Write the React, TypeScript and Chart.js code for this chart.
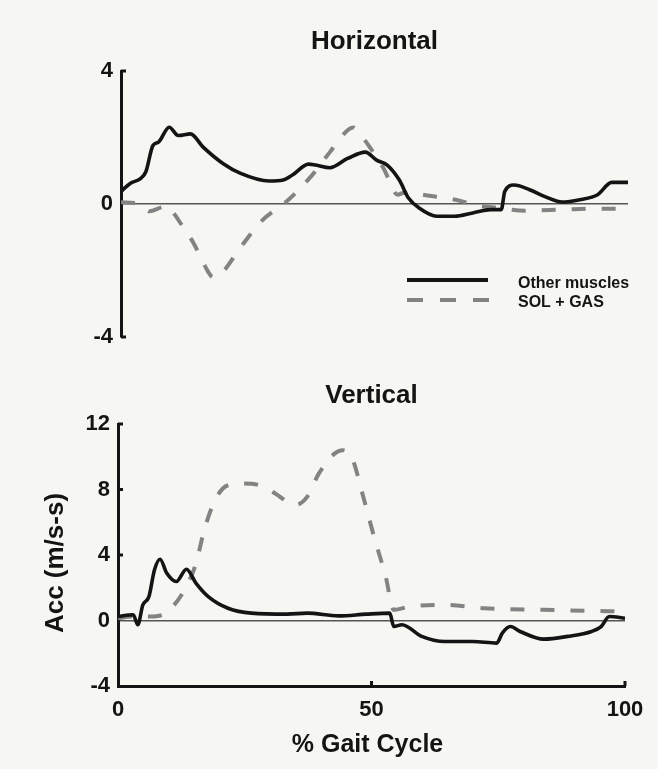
import React, { useEffect, useRef } from "react";
import { Chart, registerables } from "chart.js";

Chart.register(...registerables);

const FONT = "'Liberation Sans', Arial, Helvetica, sans-serif";

// ---- Data ----
const seriesNames = ["Other muscles", "SOL + GAS"];

const horizOtherX = [0, 1.8, 3.9, 4.9, 6.3, 7.4, 9.5, 11.3, 13.7, 16.2, 20.1, 23.6, 29.2, 32.0, 33.8, 37.0, 38.4, 41.2, 44.7, 48.2, 50.4, 52.5, 54.9, 56.7, 58.8, 62.3, 65.8, 69.4, 72.9, 75.0, 75.7, 77.5, 80.6, 83.5, 87.0, 90.5, 94.0, 96.8, 100];
const horizOtherY = [0.38, 0.62, 0.77, 0.97, 1.76, 1.86, 2.31, 2.06, 2.11, 1.71, 1.22, 0.92, 0.69, 0.72, 0.87, 1.2, 1.17, 1.09, 1.37, 1.56, 1.32, 1.17, 0.72, 0.18, -0.12, -0.37, -0.37, -0.27, -0.17, -0.17, 0.38, 0.57, 0.43, 0.23, 0.06, 0.13, 0.28, 0.65, 0.65];

const horizSolGasX = [0, 3.9, 5.6, 8, 9.2, 10.6, 12.3, 14.4, 16.5, 18.2, 19.7, 23.6, 27.8, 32.7, 37.7, 41.2, 44.7, 45.8, 46.8, 49.3, 51.8, 54.6, 55.6, 61.6, 67.3, 69.4, 74.4, 80, 87, 94, 100];
const horizSolGasY = [0.05, 0, -0.22, -0.1, -0.07, -0.32, -0.71, -1.2, -1.85, -2.2, -2.1, -1.3, -0.5, 0.08, 0.87, 1.56, 2.22, 2.3, 2.16, 1.66, 1.07, 0.28, 0.33, 0.23, 0.08, -0.02, -0.12, -0.2, -0.17, -0.14, -0.14];

const vertOtherX = [0, 3, 3.9, 4.9, 6.1, 7.2, 8.3, 9.6, 11.5, 13.5, 15.4, 17.8, 21.7, 26.3, 33.4, 37.3, 43.5, 49, 53.6, 54.4, 56, 59.9, 64.5, 70, 74.7, 75.8, 77.4, 79.3, 84, 88.7, 93.4, 95.3, 96.9, 100];
const vertOtherY = [0.24, 0.35, -0.26, 0.95, 1.46, 3.1, 3.74, 2.9, 2.38, 3.13, 2.27, 1.46, 0.75, 0.45, 0.39, 0.45, 0.28, 0.39, 0.45, -0.37, -0.26, -0.97, -1.28, -1.28, -1.38, -0.77, -0.37, -0.67, -1.14, -0.97, -0.67, -0.37, 0.24, 0.14];

const vertSolGasX = [0, 3, 6.1, 8.8, 10.8, 13.1, 15.4, 17, 19.3, 21.7, 24.8, 27.9, 31, 34.9, 37.3, 39.6, 42.7, 44.3, 46.2, 48.2, 50.5, 52.8, 54.4, 57.5, 64.5, 72.3, 84, 99.6];
const vertSolGasY = [0.14, 0.24, 0.24, 0.35, 0.85, 1.87, 3.5, 5.52, 7.45, 8.26, 8.37, 8.26, 7.76, 7.05, 7.55, 8.97, 10.19, 10.4, 9.89, 7.76, 5.12, 2.68, 0.65, 0.85, 0.95, 0.75, 0.65, 0.55];

const horizTicks = [-4, 0, 4];
const vertTicks = [-4, 0, 4, 8, 12];
const xTicks = [0, 50, 100];

const titles = { top: "Horizontal", bottom: "Vertical" };
const xAxisTitle = "% Gait Cycle";
const yAxisTitle = "Acc (m/s-s)";

// ---- Styles ----
const INK = "#141414";
const DASH_COLOR = "#838383";
const DASH = [14, 16];

const zip = (xs: number[], ys: number[]) => xs.map((x, i) => ({ x, y: ys[i] }));

const solidDs = (xs: number[], ys: number[]) => ({
  label: seriesNames[0],
  data: zip(xs, ys),
  borderColor: INK,
  borderWidth: 3.6,
  pointRadius: 0,
  cubicInterpolationMode: "monotone" as const,
  fill: false,
});
const dashDs = (xs: number[], ys: number[]) => ({
  label: seriesNames[1],
  data: zip(xs, ys),
  borderColor: DASH_COLOR,
  borderWidth: 4,
  borderDash: DASH,
  pointRadius: 0,
  cubicInterpolationMode: "monotone" as const,
  fill: false,
});

const tickFont = { family: FONT, size: 22, weight: "bold" as const };

const zeroGrid = {
  drawTicks: false,
  lineWidth: 1.4,
  color: (c: any) => (c.tick && c.tick.value === 0 ? "#555" : "rgba(0,0,0,0)"),
};

// nubs (small inner tick marks) on axes
function drawNubs(chart: any, yVals: number[], xVals: number[]) {
  const { ctx, chartArea, scales } = chart;
  ctx.save();
  ctx.strokeStyle = INK;
  ctx.lineWidth = 3;
  yVals.forEach((v) => {
    const p = scales.y.getPixelForValue(v);
    ctx.beginPath();
    ctx.moveTo(chartArea.left, p);
    ctx.lineTo(chartArea.left + 5, p);
    ctx.stroke();
  });
  xVals.forEach((v) => {
    const p = scales.x.getPixelForValue(v);
    ctx.beginPath();
    ctx.moveTo(p, chartArea.bottom);
    ctx.lineTo(p, chartArea.bottom - 5);
    ctx.stroke();
  });
  ctx.restore();
}

const topTextPlugin = {
  id: "topText",
  afterDraw(chart: any) {
    const { ctx, chartArea } = chart;
    drawNubs(chart, [4, -4], []);
    ctx.save();
    ctx.fillStyle = INK;
    ctx.font = `bold 26px ${FONT}`;
    ctx.textAlign = "center";
    ctx.textBaseline = "alphabetic";
    ctx.fillText(titles.top, (chartArea.left + chartArea.right) / 2, 49);
    // legend
    ctx.lineWidth = 4;
    ctx.strokeStyle = INK;
    ctx.beginPath();
    ctx.moveTo(407, 280);
    ctx.lineTo(488, 280);
    ctx.stroke();
    ctx.strokeStyle = DASH_COLOR;
    ctx.setLineDash([16, 17]);
    ctx.beginPath();
    ctx.moveTo(407, 300);
    ctx.lineTo(489, 300);
    ctx.stroke();
    ctx.setLineDash([]);
    ctx.font = `bold 16px ${FONT}`;
    ctx.textAlign = "left";
    ctx.textBaseline = "middle";
    ctx.fillStyle = INK;
    ctx.fillText(seriesNames[0], 518, 284);
    ctx.fillText(seriesNames[1], 518, 303);
    ctx.restore();
  },
};

const bottomTextPlugin = {
  id: "bottomText",
  afterDraw(chart: any) {
    const { ctx, chartArea } = chart;
    drawNubs(chart, [12, 8, 4], [50, 100]);
    ctx.save();
    ctx.fillStyle = INK;
    ctx.font = `bold 26px ${FONT}`;
    ctx.textAlign = "center";
    ctx.textBaseline = "alphabetic";
    const cx = (chartArea.left + chartArea.right) / 2;
    ctx.fillText(titles.bottom, cx, 403 - 360);
    ctx.font = `bold 25px ${FONT}`;
    ctx.textBaseline = "middle";
    ctx.fillText(xAxisTitle, cx - 4, 745 - 360);
    ctx.translate(56, 563 - 360);
    ctx.rotate(-Math.PI / 2);
    ctx.font = `bold 26px ${FONT}`;
    ctx.fillText(yAxisTitle, 0, 0);
    ctx.restore();
  },
};

export default function App() {
  const topRef = useRef<HTMLCanvasElement | null>(null);
  const botRef = useRef<HTMLCanvasElement | null>(null);

  useEffect(() => {
    const c1 = new Chart(topRef.current as HTMLCanvasElement, {
      type: "line",
      data: { datasets: [solidDs(horizOtherX, horizOtherY), dashDs(horizSolGasX, horizSolGasY)] as any },
      options: {
        responsive: false,
        animation: false,
        devicePixelRatio: 1,
        layout: { padding: { top: 71, right: 30, bottom: 23, left: 0 } },
        plugins: { legend: { display: false }, tooltip: { enabled: false }, title: { display: false } },
        scales: {
          x: { type: "linear", min: 0, max: 100, display: false },
          y: {
            type: "linear",
            min: -4,
            max: 4,
            afterFit: (s: any) => {
              s.width = 121;
            },
            afterBuildTicks: (s: any) => {
              s.ticks = horizTicks.map((v) => ({ value: v }));
            },
            grid: zeroGrid as any,
            border: { display: true, color: INK, width: 3 },
            ticks: { font: tickFont, color: INK, padding: 8 },
          },
        },
      } as any,
      plugins: [topTextPlugin],
    });

    const c2 = new Chart(botRef.current as HTMLCanvasElement, {
      type: "line",
      data: { datasets: [solidDs(vertOtherX, vertOtherY), dashDs(vertSolGasX, vertSolGasY)] as any },
      options: {
        responsive: false,
        animation: false,
        devicePixelRatio: 1,
        layout: { padding: { top: 64, right: 33, bottom: 0, left: 0 } },
        plugins: { legend: { display: false }, tooltip: { enabled: false }, title: { display: false } },
        scales: {
          x: {
            type: "linear",
            min: 0,
            max: 100,
            afterFit: (s: any) => {
              s.height = 83;
            },
            afterBuildTicks: (s: any) => {
              s.ticks = xTicks.map((v) => ({ value: v }));
            },
            grid: { display: false, drawTicks: false },
            border: { display: true, color: INK, width: 3 },
            ticks: { font: tickFont, color: INK, padding: 11, maxRotation: 0 },
          },
          y: {
            type: "linear",
            min: -4,
            max: 12,
            afterFit: (s: any) => {
              s.width = 118;
            },
            afterBuildTicks: (s: any) => {
              s.ticks = vertTicks.map((v) => ({ value: v }));
            },
            grid: zeroGrid as any,
            border: { display: true, color: INK, width: 3 },
            ticks: { font: tickFont, color: INK, padding: 8 },
          },
        },
      } as any,
      plugins: [bottomTextPlugin],
    });

    return () => {
      c1.destroy();
      c2.destroy();
    };
  }, []);

  return (
    <div
      style={{
        position: "fixed",
        left: 0,
        top: 0,
        width: 658,
        height: 769,
        background: "#f6f6f3",
        overflow: "hidden",
      }}
    >
      <canvas ref={topRef} width={658} height={360} style={{ position: "absolute", left: 0, top: 0 }} />
      <canvas ref={botRef} width={658} height={409} style={{ position: "absolute", left: 0, top: 360 }} />
    </div>
  );
}
